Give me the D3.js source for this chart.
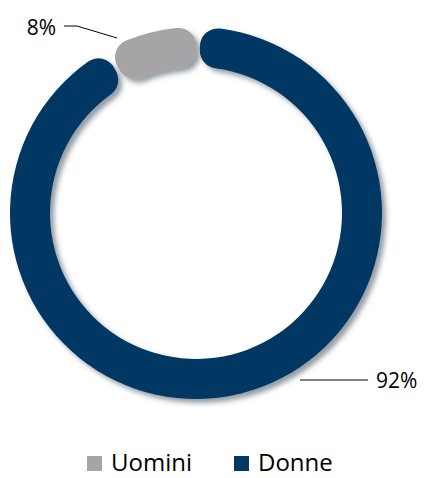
<!DOCTYPE html>
<html>
<head>
<meta charset="utf-8">
<script src="https://cdn.jsdelivr.net/npm/d3@7"></script>
<style>
  html, body { margin: 0; padding: 0; background: #fff; }
  svg { display: block; font-family: "Open Sans", sans-serif; }
</style>
</head>
<body>
<script>
// dati
const categories = ["Uomini", "Donne"];
const values = [8, 92];
const labels = ["8%", "92%"];
const colors = ["#a5a5a7", "#003764"];

const width = 425, height = 478;
const cx = 196, cy = 213;
const outerR = 186, innerR = 146;

const svg = d3.select("body").append("svg")
  .attr("width", width)
  .attr("height", height);

// ombra
const defs = svg.append("defs");
defs.append("filter")
  .attr("id", "shadow")
  .attr("x", "-20%").attr("y", "-20%")
  .attr("width", "140%").attr("height", "140%")
  .append("feDropShadow")
  .attr("dx", 4).attr("dy", 4)
  .attr("stdDeviation", 2.5)
  .attr("flood-color", "#2a3a4a")
  .attr("flood-opacity", 0.5);

const color = d3.scaleOrdinal().domain(categories).range(colors);

const total = d3.sum(values);
const offset = 2 * Math.PI * values[0] / total;
const pie = d3.pie()
  .sort(null)
  .startAngle(-offset)
  .endAngle(2 * Math.PI - offset)
  .padAngle(0.015);

const arcs = pie(values);

const arc = d3.arc()
  .innerRadius(innerR)
  .outerRadius(outerR)
  .cornerRadius(18);

const g = svg.append("g").attr("transform", `translate(${cx},${cy})`);

g.append("g")
  .attr("filter", "url(#shadow)")
  .selectAll("path")
  .data(arcs)
  .join("path")
  .attr("fill", (d, i) => color(categories[i]))
  .attr("d", arc);

// etichette con linee guida
svg.append("path")
  .attr("d", "M64,26 L77,26 L117,38")
  .attr("fill", "none")
  .attr("stroke", "#000")
  .attr("stroke-width", 1);
svg.append("text")
  .attr("x", 56).attr("y", 35)
  .attr("text-anchor", "end")
  .style("font-size", "21px")
  .attr("fill", "#000")
  .text(labels[0]);

svg.append("path")
  .attr("d", "M300,380 L368,380")
  .attr("fill", "none")
  .attr("stroke", "#000")
  .attr("stroke-width", 1);
svg.append("text")
  .attr("x", 376).attr("y", 388)
  .style("font-size", "21px")
  .attr("fill", "#000")
  .text(labels[1]);

// legenda
const legendX = [87, 234];
const legend = svg.append("g")
  .selectAll("g")
  .data(categories)
  .join("g")
  .attr("transform", (d, i) => `translate(${legendX[i]},0)`);
legend.append("rect")
  .attr("x", 0).attr("y", 456)
  .attr("width", 15).attr("height", 15)
  .attr("fill", d => color(d));
legend.append("text")
  .attr("x", 24).attr("y", 471)
  .style("font-size", "24px")
  .attr("fill", "#000")
  .text(d => d);
</script>
</body>
</html>
